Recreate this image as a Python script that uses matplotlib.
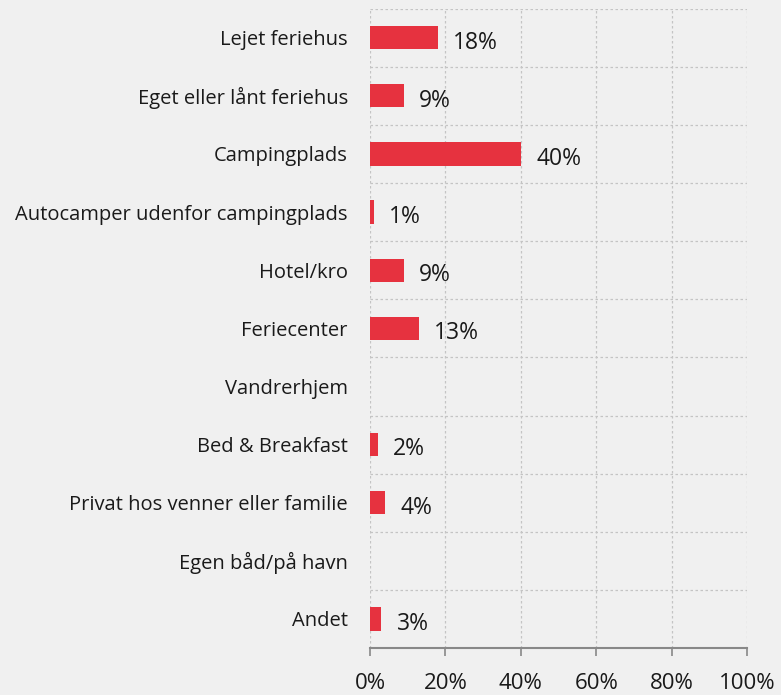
import matplotlib.pyplot as plt
from matplotlib.ticker import FuncFormatter

kategorier = ['Lejet feriehus', 'Eget eller lånt feriehus', 'Campingplads',
              'Autocamper udenfor campingplads', 'Hotel/kro', 'Feriecenter',
              'Vandrerhjem', 'Bed & Breakfast', 'Privat hos venner eller familie',
              'Egen båd/på havn', 'Andet']
andele = [18, 9, 40, 1, 9, 13, 0, 2, 4, 0, 3]
x_ticks = [0, 20, 40, 60, 80, 100]

bg = '#f0f0f0'
rod = '#e6323f'
plt.rcParams['font.family'] = ['Open Sans', 'DejaVu Sans']

fig = plt.figure(figsize=(7.81, 6.95), dpi=100, facecolor=bg)
ax = fig.add_axes([0.4738, 0.0676, 0.4827, 0.92])
ax.set_facecolor(bg)

y = list(range(len(kategorier)))
ax.barh(y, andele, height=0.4, color=rod, zorder=3)

# procent-etiketter til hoejre for hver soejle (kun hvor der er en vaerdi)
for yi, v in zip(y, andele):
    if v > 0:
        ax.annotate(f'{v}%', (v, yi), xytext=(11, -3.5), textcoords='offset points',
                    ha='left', va='center', fontsize=16.5, color='#1a1a1a')

ax.set_ylim(len(kategorier) - 0.5, -0.5)
ax.set_xlim(0, 100)
ax.set_yticks(y)
ax.set_yticklabels(kategorier, fontsize=14.5, color='#1a1a1a')
ax.tick_params(axis='y', length=0, pad=16)
ax.set_xticks(x_ticks)
ax.xaxis.set_major_formatter(FuncFormatter(lambda v, p: f'{v:.0f}%'))
ax.tick_params(axis='x', length=6, width=1.2, color='#888888', labelsize=16,
               labelcolor='#1a1a1a', pad=12)

# gitterlinjer: lodrette ved ticks, vandrette mellem kategorierne
ax.grid(axis='x', linestyle=(0, (2, 2)), color='#c4c4c4', linewidth=0.9, zorder=0)
for b in [i - 0.5 for i in range(len(kategorier))]:
    ax.axhline(b, linestyle=(0, (2, 2)), color='#c4c4c4', linewidth=0.9, zorder=0)

for s in ['top', 'right', 'left']:
    ax.spines[s].set_visible(False)
ax.spines['bottom'].set_color('#888888')
ax.spines['bottom'].set_linewidth(1.5)

fig.savefig('out.png', dpi=100, facecolor=bg)
